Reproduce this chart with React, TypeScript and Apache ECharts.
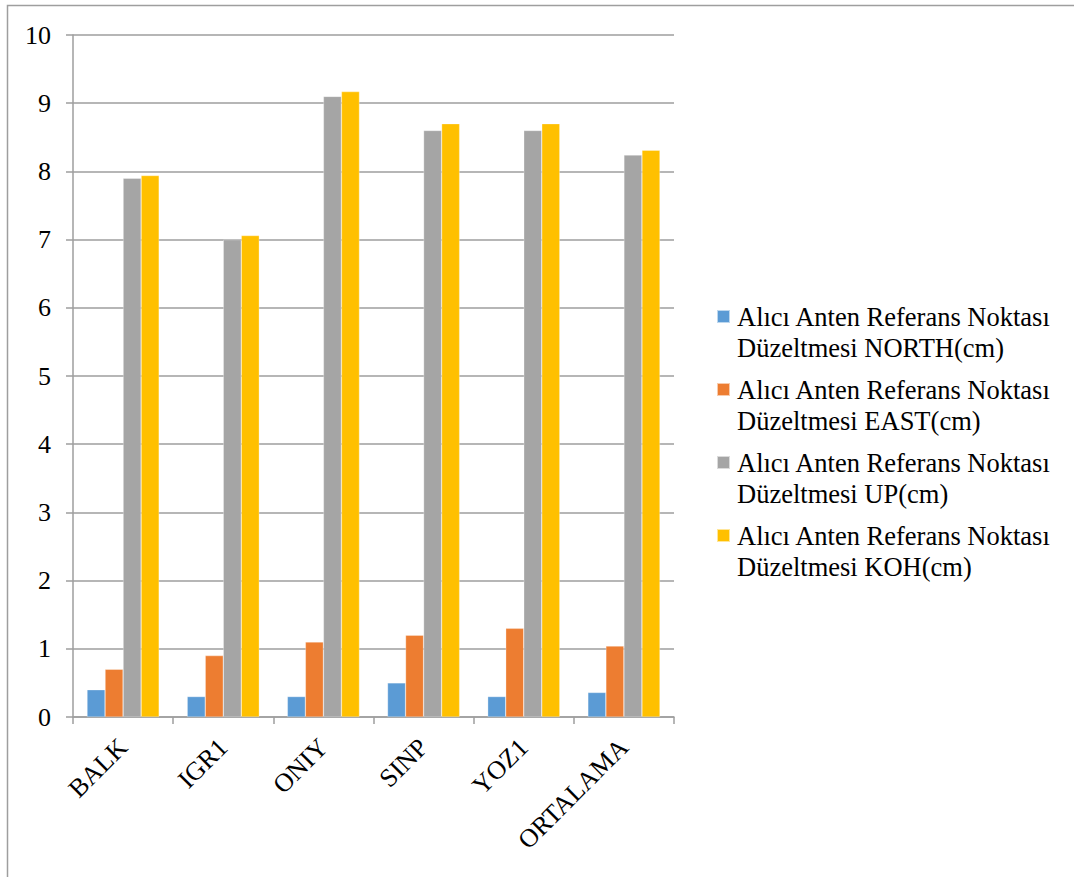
import React, { useEffect, useRef } from "react";
import * as echarts from "echarts";

// Stations and the averaged column
const stations = ["BALK", "IGR1", "ONIY", "SINP", "YOZ1", "ORTALAMA"];

// Antenna reference point corrections per station (cm)
const northValues = [0.4, 0.3, 0.3, 0.5, 0.3, 0.36];
const eastValues = [0.7, 0.9, 1.1, 1.2, 1.3, 1.04];
const upValues = [7.9, 7.0, 9.1, 8.6, 8.6, 8.24];
const kohValues = [7.94, 7.06, 9.17, 8.7, 8.7, 8.31];

const seriesNames = [
  "Alıcı Anten Referans Noktası Düzeltmesi NORTH(cm)",
  "Alıcı Anten Referans Noktası Düzeltmesi EAST(cm)",
  "Alıcı Anten Referans Noktası Düzeltmesi UP(cm)",
  "Alıcı Anten Referans Noktası Düzeltmesi KOH(cm)",
];
const seriesColors = ["#5B9BD5", "#ED7D31", "#A5A5A5", "#FFC000"];

const FONT = "Liberation Serif";
const AXIS_GRAY = "#9e9e9e";

// Square marker sitting beside the first of two text lines
const LEGEND_ICON =
  "path://M0,9L13,9L13,22L0,22Z M0,0L0.01,0L0.01,0.01Z M0,61.99L0.01,61.99L0.01,62Z";

export default function App() {
  const ref = useRef<HTMLDivElement>(null);

  useEffect(() => {
    if (!ref.current) return;
    const chart = echarts.init(ref.current, undefined, { renderer: "svg" });
    const values = [northValues, eastValues, upValues, kohValues];

    chart.setOption({
      animation: false,
      backgroundColor: "#ffffff",
      textStyle: { fontFamily: FONT, color: "#000" },
      graphic: [
        {
          type: "rect",
          silent: true,
          shape: { x: 7.5, y: 5.5, width: 1200, height: 1000 },
          style: { fill: "none", stroke: AXIS_GRAY, lineWidth: 1.5 },
        },
      ],
      grid: { left: 73, top: 35, right: 400, bottom: 160, containLabel: false },
      legend: {
        orient: "vertical",
        left: 716,
        top: 300,
        padding: 0,
        itemWidth: 13,
        itemHeight: 62,
        itemGap: 9,
        icon: LEGEND_ICON,
        formatter: (name: string) => name.replace(" Düzeltmesi", "\nDüzeltmesi"),
        textStyle: {
          fontFamily: FONT,
          fontSize: 26.5,
          lineHeight: 31,
          color: "#000",
          padding: [0, 0, 0, 2],
        },
      },
      xAxis: {
        type: "category",
        data: stations,
        boundaryGap: true,
        axisLine: { lineStyle: { color: AXIS_GRAY, width: 1.5 } },
        axisTick: { show: true, length: 7, lineStyle: { color: AXIS_GRAY, width: 1.5 } },
        axisLabel: {
          rotate: 45,
          margin: 26,
          fontFamily: FONT,
          fontSize: 26,
          color: "#000",
          interval: 0,
        },
      },
      yAxis: {
        type: "value",
        min: 0,
        max: 10,
        interval: 1,
        axisLine: { show: true, lineStyle: { color: AXIS_GRAY, width: 1.5 } },
        axisTick: { show: true, length: 7, lineStyle: { color: AXIS_GRAY, width: 1.5 } },
        splitLine: { show: true, lineStyle: { color: AXIS_GRAY, width: 1.5 } },
        axisLabel: {
          margin: 22,
          fontFamily: FONT,
          fontSize: 26,
          color: "#000",
        },
      },
      series: values.map((data, i) => ({
        type: "bar",
        name: seriesNames[i],
        data,
        barGap: "0%",
        barCategoryGap: "28%",
        itemStyle: {
          color: seriesColors[i],
          borderColor: "rgba(255,255,255,0.6)",
          borderWidth: 0.5,
        },
      })),
    });

    return () => chart.dispose();
  }, []);

  return (
    <div
      ref={ref}
      style={{ position: "fixed", left: 0, top: 0, width: 1074, height: 877 }}
    />
  );
}
